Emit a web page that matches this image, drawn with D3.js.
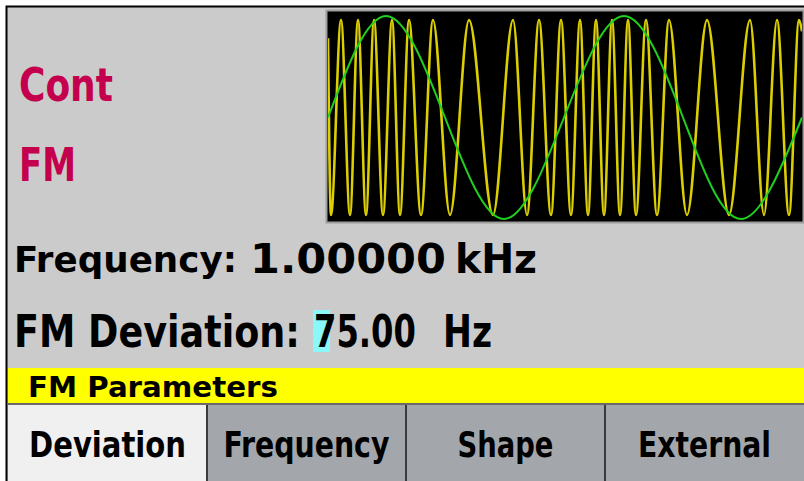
<!DOCTYPE html>
<html lang="en">
<head>
<meta charset="UTF-8">
<title>FM Parameters</title>
<script src="https://d3js.org/d3.v7.min.js"></script>
<style>
  body { margin: 0; background: #fff; }
  svg { display: block; }
  text { font-family: "DejaVu Sans Condensed", "DejaVu Sans", sans-serif; font-weight: bold; font-stretch: condensed; }
</style>
</head>
<body>
<div id="screen"></div>
<script>
// mode labels on the left
var modeLabels = ["Cont", "FM"];

// parameter readouts
var freqLabel = "Frequency:";
var freqValue = "1.00000";
var freqUnit = "kHz";
var devLabel = "FM Deviation:";
var devValue = "75.00";
var devUnit = "Hz";
var menuTitle = "FM Parameters";
var softkeys = ["Deviation", "Frequency", "Shape", "External"];
var activeKey = 0;

// modulating signal (green): sample position across the trace, level
var modT = [0, 58, 117, 176, 236, 296, 355, 413, 474];
var modV = [0, 1, 0, -1, 0, 1, 0, -1, 0];

// carrier (yellow): turning points
var carT = [0, 3, 13, 22, 30, 38, 46, 55, 64, 72, 81, 93, 105, 122, 141, 165, 185,
            199, 211, 223, 233, 243, 252, 260, 268, 276, 284, 292, 300, 308, 318,
            329, 341, 359, 379, 401, 422, 436, 449, 461, 471, 474];
var carV = [0.78, -0.96, 0.96, -0.96, 0.96, -0.96, 0.96, -0.96, 0.96, -0.96, 0.96,
            -0.96, 0.96, -0.96, 0.96, -0.96, 0.96, -0.96, 0.96, -0.96, 0.96, -0.96,
            0.96, -0.96, 0.96, -0.96, 0.96, -0.96, 0.96, -0.96, 0.96, -0.96, 0.96,
            -0.96, 0.96, -0.96, 0.96, -0.96, 0.96, -0.96, 0.96, 0.85];

var width = 804, height = 481;

var svg = d3.select("#screen").append("svg")
    .attr("width", width)
    .attr("height", height);

// screen background and bezel edge
svg.append("rect").attr("width", width).attr("height", height).attr("fill", "#fff");
svg.append("rect").attr("x", 7).attr("y", 7).attr("width", width).attr("height", height)
    .attr("fill", "#cbcbcb");
svg.append("path").attr("d", "M6.5,481V6.5H804")
    .attr("fill", "none").attr("stroke", "#000").attr("stroke-width", 2);

// helper: text squeezed to a given width (the screen font is narrow)
function label(txt, x, y, size, len, fill, anchor) {
  var t = svg.append("text")
    .attr("font-size", size)
    .attr("fill", fill || "#000")
    .text(txt);
  var w = t.node().getComputedTextLength();
  var left = anchor === "middle" ? x - len / 2 : x;
  t.attr("transform", "translate(" + left + "," + y + ") scale(" + (len / w) + ",1)");
  return t;
}

// waveform panel
var px0 = 328, px1 = 802, py0 = 12, py1 = 221;
svg.append("rect").attr("x", px0 - 1.5).attr("y", py0 - 1.5)
    .attr("width", px1 - px0 + 3).attr("height", py1 - py0 + 3)
    .attr("fill", "#000").attr("stroke", "#9c9c9c").attr("stroke-width", 2);

var x = d3.scaleLinear().domain([0, 474]).range([px0, px1]);
var y = d3.scaleLinear().domain([-1, 1]).range([219, 16]);

svg.append("clipPath").attr("id", "clip").append("rect")
    .attr("x", px0).attr("y", py0).attr("width", px1 - px0).attr("height", py1 - py0);

var plot = svg.append("g").attr("clip-path", "url(#clip)");

var carLine = d3.line()
    .x(function(d, i) { return x(carT[i]); })
    .y(function(d) { return y(d); })
    .curve(d3.curveMonotoneX);

plot.append("path")
    .attr("d", carLine(carV))
    .attr("fill", "none")
    .attr("stroke", "#dccf00")
    .attr("stroke-width", 2.6);

var modLine = d3.line()
    .x(function(d, i) { return x(modT[i]); })
    .y(function(d) { return y(d); })
    .curve(d3.curveNatural);

plot.append("path")
    .attr("d", modLine(modV))
    .attr("fill", "none")
    .attr("stroke", "#1fd01f")
    .attr("stroke-width", 2);

// mode labels
label(modeLabels[0], 19, 101, 47, 94, "#c4004e");
label(modeLabels[1], 19, 181, 47, 57, "#c4004e");

// readouts
label(freqLabel, 14, 272, 35, 223);
label(freqValue, 250, 273, 40, 196);
label(freqUnit, 455, 273, 40, 82);

svg.append("rect").attr("x", 313).attr("y", 310).attr("width", 17).attr("height", 42)
    .attr("fill", "#8af8f8");
label(devLabel, 14, 347, 45, 286);
label(devValue, 314, 347, 45, 102);
label(devUnit, 443, 347, 45, 49);

// menu title bar
svg.append("rect").attr("x", 8).attr("y", 368).attr("width", width - 8).attr("height", 35)
    .attr("fill", "#ffff00");
label(menuTitle, 28, 397, 28, 250);
svg.append("rect").attr("x", 8).attr("y", 403).attr("width", width - 8).attr("height", 2)
    .attr("fill", "#6a6a6a");

// softkeys
var band = d3.scaleBand().domain(softkeys).range([8, 804]);
var keyW = [157, 166, 96, 133];

var keys = svg.selectAll(".key").data(softkeys).enter().append("g").attr("class", "key");

keys.append("rect")
    .attr("x", function(d) { return band(d); })
    .attr("y", 405)
    .attr("width", band.bandwidth())
    .attr("height", height - 405)
    .attr("fill", function(d, i) { return i === activeKey ? "#f0f0f0" : "#a3a7ab"; });

keys.filter(function(d, i) { return i > 0; }).append("line")
    .attr("x1", function(d) { return band(d); })
    .attr("x2", function(d) { return band(d); })
    .attr("y1", 405).attr("y2", height)
    .attr("stroke", "#3a3a3a").attr("stroke-width", 2);

softkeys.forEach(function(d, i) {
  label(d, band(d) + band.bandwidth() / 2, 457, 35, keyW[i], "#000", "middle");
});
</script>
</body>
</html>
